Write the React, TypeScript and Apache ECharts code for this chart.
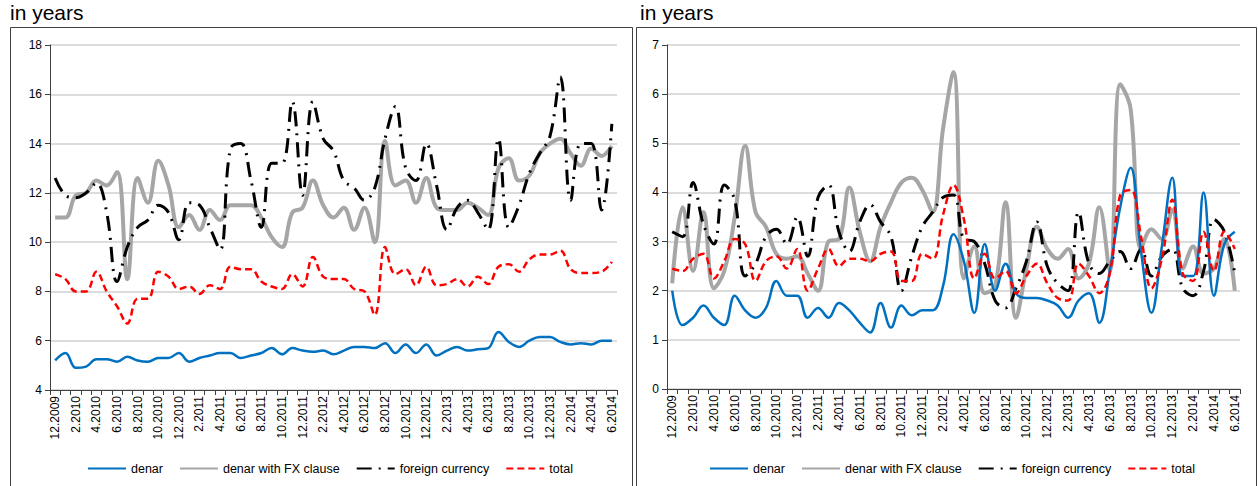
import { useEffect, useRef } from 'react'
import * as echarts from 'echarts'

// months 12.2009 .. 6.2014
const months: string[] = []
for (let i = 0; i < 55; i++) {
  const m = ((11 + i) % 12) + 1
  const y = 2009 + Math.floor((11 + i) / 12)
  months.push(`${m}.${y}`)
}

const leftDenar = [5.2, 5.5, 4.9, 4.95, 5.25, 5.25, 5.15, 5.35, 5.2, 5.15, 5.3, 5.3, 5.5, 5.15, 5.3, 5.4, 5.5, 5.5, 5.3, 5.4, 5.5, 5.7, 5.45, 5.7, 5.6, 5.55, 5.6, 5.45, 5.6, 5.75, 5.75, 5.7, 5.9, 5.5, 5.85, 5.5, 5.85, 5.4, 5.6, 5.75, 5.6, 5.65, 5.7, 6.35, 5.95, 5.75, 6.0, 6.15, 6.15, 5.95, 5.85, 5.9, 5.85, 6.0, 6.0]
const leftFx = [11.0, 11.0, 11.9, 12.0, 12.5, 12.3, 12.85, 8.5, 12.6, 11.6, 13.3, 12.3, 10.6, 11.1, 10.5, 11.3, 10.9, 11.5, 11.5, 11.5, 11.0, 10.2, 9.8, 11.2, 11.4, 12.5, 11.5, 11.0, 11.4, 10.5, 11.4, 10.0, 14.1, 12.3, 12.5, 11.6, 12.6, 11.4, 11.3, 11.3, 11.6, 11.4, 11.1, 13.0, 13.4, 12.5, 12.7, 13.6, 14.0, 14.2, 13.6, 13.1, 13.8, 13.5, 13.9]
const leftForeign = [12.6, 11.9, 11.8, 12.0, 12.4, 11.2, 8.4, 9.8, 10.6, 10.9, 11.5, 11.2, 10.1, 11.6, 11.5, 10.6, 9.7, 13.8, 14.0, 12.5, 10.6, 13.2, 13.2, 15.7, 11.9, 15.7, 14.2, 13.7, 12.5, 12.2, 11.7, 12.2, 14.2, 15.5, 13.0, 12.5, 14.0, 12.3, 10.5, 11.4, 11.7, 11.2, 10.5, 14.2, 10.6, 11.5, 12.8, 13.6, 14.3, 16.7, 11.7, 14.0, 14.0, 11.3, 14.8]
const leftTotal = [8.7, 8.5, 8.0, 8.0, 8.8, 8.0, 7.4, 6.7, 7.7, 7.7, 8.8, 8.6, 8.1, 8.2, 7.9, 8.25, 8.1, 9.0, 8.9, 8.9, 8.4, 8.2, 8.1, 8.7, 8.2, 9.4, 8.6, 8.5, 8.5, 8.1, 8.0, 7.05, 9.8, 8.7, 8.9, 8.25, 9.0, 8.25, 8.3, 8.5, 8.2, 8.6, 8.3, 9.0, 9.1, 8.8, 9.3, 9.5, 9.5, 9.65, 8.9, 8.75, 8.75, 8.8, 9.2]

const rightDenar = [2.0, 1.3, 1.45, 1.7, 1.45, 1.3, 1.9, 1.6, 1.45, 1.65, 2.2, 1.9, 1.9, 1.45, 1.65, 1.45, 1.75, 1.6, 1.35, 1.15, 1.75, 1.25, 1.7, 1.5, 1.6, 1.6, 2.1, 3.15, 2.6, 1.55, 2.95, 2.0, 2.55, 1.95, 1.85, 1.85, 1.8, 1.7, 1.45, 1.8, 1.95, 1.35, 2.4, 3.7, 4.5, 2.8, 1.55, 2.9, 4.3, 2.3, 2.3, 4.0, 1.9, 2.95, 3.2]
const rightFx = [2.15, 3.7, 2.4, 3.6, 2.05, 2.4, 3.5, 4.95, 3.6, 3.3, 2.75, 2.65, 2.7, 2.35, 2.0, 3.0, 3.05, 4.1, 3.2, 2.6, 3.3, 3.8, 4.2, 4.3, 4.05, 3.6, 5.3, 6.45, 2.25, 2.9, 1.95, 2.1, 3.8, 1.45, 2.45, 3.3, 2.85, 2.65, 2.85, 2.25, 2.55, 3.7, 2.4, 6.2, 5.7, 2.85, 3.25, 3.05, 3.65, 2.45, 2.9, 2.35, 2.45, 3.05, 2.0]
const rightForeign = [3.2, 3.1, 4.2, 3.35, 2.95, 4.15, 3.85, 2.3, 2.55, 3.1, 3.25, 2.95, 3.5, 2.7, 3.9, 4.15, 3.2, 2.8, 3.4, 3.75, 3.4, 3.1, 2.0, 2.7, 3.3, 3.6, 3.9, 3.95, 3.05, 3.0, 2.55, 1.8, 1.65, 2.05, 2.6, 3.4, 2.5, 2.15, 2.0, 3.6, 2.55, 2.35, 2.6, 2.8, 2.45, 2.85, 2.3, 2.7, 2.85, 2.05, 1.9, 2.4, 3.45, 3.2, 2.35]
const rightTotal = [2.45, 2.4, 2.65, 2.75, 2.25, 2.6, 3.05, 2.95, 2.2, 2.6, 2.7, 2.45, 2.85, 2.0, 2.45, 2.85, 2.5, 2.65, 2.65, 2.6, 2.75, 2.8, 2.2, 2.2, 2.75, 2.65, 3.55, 4.15, 3.45, 2.25, 2.75, 2.25, 2.4, 1.95, 2.3, 2.55, 2.15, 1.85, 1.8, 2.55, 2.3, 1.95, 2.35, 3.95, 4.05, 3.1, 2.05, 2.65, 3.85, 2.35, 2.2, 3.2, 2.4, 3.2, 2.85]

const names = ['denar', 'denar with FX clause', 'foreign currency', 'total']
const font = 'Liberation Sans, Arial, sans-serif'

function makeSeries(idx: number, sets: number[][]) {
  const styles = [
    { color: '#0070c0', width: 2.5, type: 'solid' as any },
    { color: '#a6a6a6', width: 4, type: 'solid' as any },
    { color: '#000000', width: 3, type: [15, 7, 2, 7] as any },
    { color: '#ff0000', width: 2.5, type: [7, 4] as any },
  ]
  return sets.map((d, k) => ({
    name: names[k], type: 'line', xAxisIndex: idx, yAxisIndex: idx, data: d,
    smooth: 0.4, symbol: 'none', lineStyle: styles[k], itemStyle: { color: styles[k].color },
    z: k === 3 ? 5 : k === 0 ? 4 : k === 2 ? 3 : 2,
  }))
}

export default function App() {
  const ref = useRef<HTMLDivElement | null>(null)
  useEffect(() => {
    if (!ref.current) return
    const chart = echarts.init(ref.current, null, { renderer: 'svg' })
    const xAxis = (gi: number) => ({
      type: 'category', gridIndex: gi, data: months, boundaryGap: true,
      axisLine: { lineStyle: { color: '#404040', width: 1 } },
      axisTick: { show: true, interval: 0, length: 5, lineStyle: { color: '#404040' } },
      axisLabel: { rotate: 90, interval: 1, color: '#000', fontSize: 12, fontFamily: font, margin: 6 },
    })
    const yAxis = (gi: number, max: number, interval: number) => ({
      type: 'value', gridIndex: gi, min: gi === 0 ? 4 : 0, max, interval,
      axisLine: { show: true, lineStyle: { color: '#404040' } },
      axisTick: { show: true, length: 5, lineStyle: { color: '#404040' } },
      axisLabel: { color: '#000', fontSize: 12, fontFamily: font, margin: 8 },
      splitLine: { lineStyle: { color: '#d0d0d0', width: 1.5 } },
    })
    const legend = (left: number) => ({
      data: names, bottom: 6, left, itemWidth: 38, itemHeight: 10, itemGap: 16,
      itemStyle: { opacity: 0 },
      textStyle: { color: '#000', fontSize: 12.5, fontFamily: font },
    })
    chart.setOption({
      animation: false,
      grid: [
        { left: 50, top: 45, width: 567, height: 345 },
        { left: 667, top: 45, width: 573, height: 344 },
      ],
      xAxis: [xAxis(0), xAxis(1)],
      yAxis: [yAxis(0, 18, 2), yAxis(1, 7, 1)],
      legend: [legend(82), legend(704)],
      series: [
        ...makeSeries(0, [leftDenar, leftFx, leftForeign, leftTotal]),
        ...makeSeries(1, [rightDenar, rightFx, rightForeign, rightTotal]),
      ],
      graphic: [
        { type: 'rect', shape: { x: 10.5, y: 27.5, width: 622, height: 470 }, style: { fill: 'none', stroke: '#404040', lineWidth: 1 } },
        { type: 'rect', shape: { x: 636.5, y: 27.5, width: 620, height: 470 }, style: { fill: 'none', stroke: '#404040', lineWidth: 1 } },
        { type: 'text', left: 10, top: 2, style: { text: 'in years', fontSize: 21, fontFamily: font, fill: '#000' } },
        { type: 'text', left: 640, top: 2, style: { text: 'in years', fontSize: 21, fontFamily: font, fill: '#000' } },
      ],
    })
    return () => chart.dispose()
  }, [])
  return <div ref={ref} style={{ position: 'fixed', left: 0, top: 0, width: 1258, height: 486, background: '#fff' }} />
}
